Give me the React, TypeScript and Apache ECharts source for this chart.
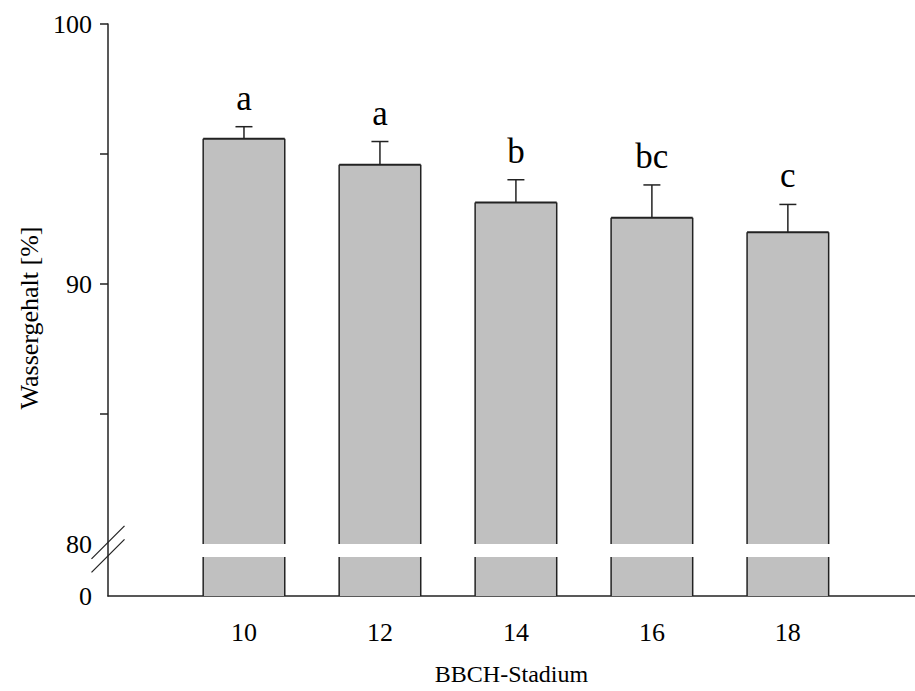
import React, { useEffect, useRef } from "react";
import * as echarts from "echarts";

const stages = [10, 12, 14, 16, 18];
const means = [95.59, 94.59, 93.13, 92.55, 91.99];
const errors = [0.46, 0.89, 0.88, 1.26, 1.07];
const letters = ["a", "a", "b", "bc", "c"];
const yTicks = [85, 90, 95, 100];
const yLabels = [78, 80, 90, 100];

const Y_MIN = 78;
const Y_MAX = 100;
const BREAK_LO = 79.5;
const BREAK_HI = 80;
const BAR_W = 1.2;
const FONT = "'Liberation Serif', 'Times New Roman', serif";
const INK = "#222";

export default function App() {
  const ref = useRef<HTMLDivElement>(null);
  useEffect(() => {
    if (!ref.current) return;
    const chart = echarts.init(ref.current, null, { renderer: "svg" });
    const barData = stages.map((s, i) => [s, means[i], errors[i], i]);
    chart.setOption({
      animation: false,
      backgroundColor: "#fff",
      grid: { left: 108, right: 0, top: 24, bottom: 94 },
      xAxis: {
        type: "value",
        min: 8,
        max: 19.87,
        name: "BBCH-Stadium",
        nameLocation: "middle",
        nameGap: 66,
        nameTextStyle: { fontFamily: FONT, fontSize: 24, color: "#000" },
        axisLine: { show: true, onZero: false, lineStyle: { color: INK, width: 1.5 } },
        axisTick: { show: false },
        splitLine: { show: false },
        axisLabel: {
          customValues: stages,
          margin: 23,
          fontFamily: FONT,
          fontSize: 26,
          color: "#000",
        },
      },
      yAxis: {
        type: "value",
        min: Y_MIN,
        max: Y_MAX,
        name: "Wassergehalt [%]",
        nameLocation: "middle",
        nameGap: 64,
        nameTextStyle: { fontFamily: FONT, fontSize: 26, color: "#000", padding: [0, 16, 0, 0] },
        axisLine: { show: true, lineStyle: { color: INK, width: 1.5 } },
        axisTick: { show: true, customValues: yTicks, length: 8, lineStyle: { color: INK, width: 1.5 } },
        splitLine: { show: false },
        axisLabel: {
          customValues: yLabels,
          margin: 16,
          fontFamily: FONT,
          fontSize: 26,
          color: "#000",
          formatter: (v: number) => (v === Y_MIN ? "0" : String(v)),
        },
      },
      series: [
        {
          type: "custom",
          data: barData,
          encode: { x: 0, y: 1 },
          clip: false,
          renderItem: (params: any, api: any) => {
            const x = api.value(0);
            const m = api.value(1);
            const e = api.value(2);
            const idx = api.value(3);
            const top = api.coord([x, m]);
            const bottom = api.coord([x, Y_MIN]);
            const errTop = api.coord([x, m + e]);
            const gapTop = api.coord([x, BREAK_HI])[1];
            const gapBot = api.coord([x, BREAK_LO])[1];
            const w = api.size([BAR_W, 0])[0];
            const l = top[0] - w / 2;
            const r = top[0] + w / 2;
            const lineStyle = { stroke: INK, lineWidth: 1.5 };
            return {
              type: "group",
              children: [
                { type: "rect", shape: { x: l, y: top[1], width: w, height: bottom[1] - top[1] }, style: { fill: "#c0c0c0" } },
                { type: "line", shape: { x1: l, y1: top[1], x2: l, y2: bottom[1] }, style: lineStyle },
                { type: "line", shape: { x1: r, y1: top[1], x2: r, y2: bottom[1] }, style: lineStyle },
                { type: "line", shape: { x1: l, y1: top[1], x2: r, y2: top[1] }, style: { stroke: INK, lineWidth: 2 } },
                { type: "line", shape: { x1: top[0], y1: top[1], x2: top[0], y2: errTop[1] }, style: lineStyle },
                { type: "line", shape: { x1: top[0] - 8.5, y1: errTop[1], x2: top[0] + 8.5, y2: errTop[1] }, style: lineStyle },
                { type: "rect", shape: { x: l - 3, y: gapTop, width: w + 6, height: gapBot - gapTop }, style: { fill: "#fff" } },
                {
                  type: "text",
                  style: {
                    text: letters[idx],
                    x: top[0],
                    y: errTop[1] - 11,
                    align: "center",
                    verticalAlign: "bottom",
                    fontFamily: FONT,
                    fontSize: 35,
                    fill: "#000",
                  },
                },
              ],
            };
          },
        },
        {
          type: "custom",
          data: [[8, 79.8]],
          encode: { x: 0, y: 1 },
          clip: false,
          z: 5,
          renderItem: (params: any, api: any) => {
            const c = api.coord([api.value(0), api.value(1)]);
            const st = { stroke: INK, lineWidth: 1.2 };
            return {
              type: "group",
              children: [
                { type: "line", shape: { x1: c[0] - 16.5, y1: c[1] - 6.75 + 16.5, x2: c[0] + 16.5, y2: c[1] - 6.75 - 16.5 }, style: st },
                { type: "line", shape: { x1: c[0] - 16.5, y1: c[1] + 6.75 + 16.5, x2: c[0] + 16.5, y2: c[1] + 6.75 - 16.5 }, style: st },
              ],
            };
          },
        },
      ],
    });
    return () => chart.dispose();
  }, []);
  return <div ref={ref} style={{ position: "absolute", left: 0, top: 0, width: 915, height: 691 }} />;
}
